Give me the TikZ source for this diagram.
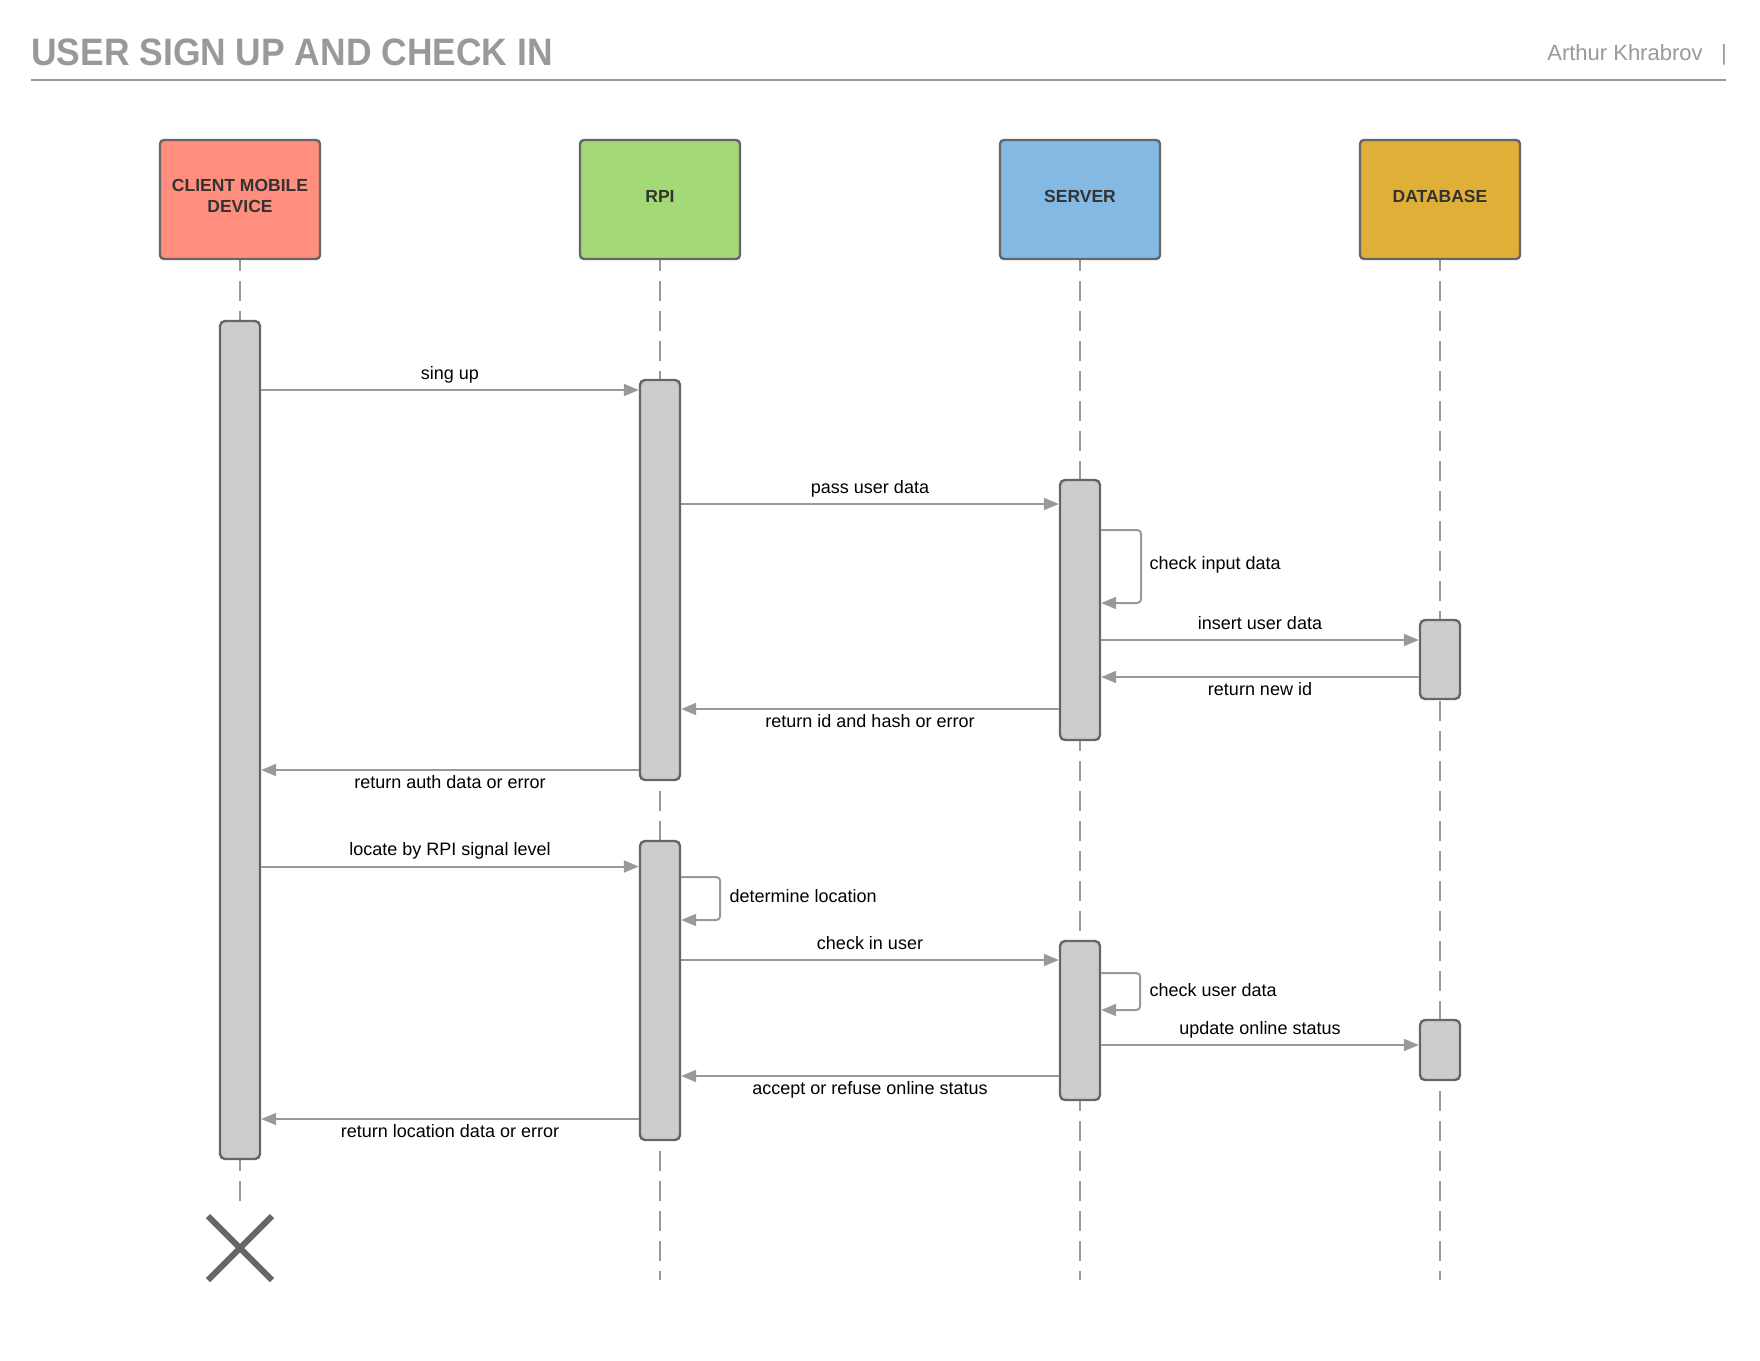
\documentclass[tikz,border=0pt]{standalone}
\usepackage{fontspec}
\setmainfont{Liberation Sans}
\usetikzlibrary{arrows.meta,calc}
\definecolor{clientc}{HTML}{FF8E7E}
\definecolor{rpic}{HTML}{A3D977}
\definecolor{serverc}{HTML}{83B9E3}
\definecolor{dbc}{HTML}{E0AF37}
\definecolor{bargray}{HTML}{CCCCCC}
\definecolor{bordergray}{HTML}{666666}
\definecolor{linegray}{HTML}{999999}
\definecolor{headtext}{HTML}{333333}
\definecolor{titlegray}{HTML}{999999}
\begin{document}
\begin{tikzpicture}[x=0.5pt,y=-0.5pt,
  head/.style={draw=bordergray, line width=1.2pt, rounded corners=2pt,
    minimum width=80pt, minimum height=59.5pt, inner sep=0pt},
  headlbl/.style={inner sep=0pt, align=center, text=headtext,
    font=\fontsize{8.75}{10.5}\selectfont\bfseries},
  actbar/.style={draw=bordergray, fill=bargray, line width=1.2pt,
    rounded corners=2.5pt, minimum width=20pt, inner sep=0pt},
  life/.style={draw=linegray, line width=1pt, dash pattern=on 10pt off 5pt, dash phase=4.5pt},
  msg/.style={draw=linegray, line width=1pt,
    -{Triangle[length=7.5pt,width=6pt,fill=linegray]}},
  lbl/.style={font=\fontsize{9}{11}\selectfont, text=black, anchor=base, inner sep=0pt},
  lblA/.style={lbl, yshift=5.5pt},
  lblB/.style={lbl, yshift=-9pt},
  lblL/.style={font=\fontsize{9}{11}\selectfont, text=black, anchor=base west, inner sep=0pt}
]
\useasboundingbox (0,0) rectangle (1760,1360);
\fill[white] (0,0) rectangle (1760,1360);

% title
\node[anchor=base west, inner sep=0pt, text=titlegray,
  font=\fontsize{17.7}{20}\selectfont\bfseries] (title) at (31,65) {\scalebox{1}[1.08]{USER SIGN UP AND CHECK IN}};
\node[anchor=base east, inner sep=0pt, text=titlegray,
  font=\fontsize{11}{13}\selectfont] (author) at (1703,60) {Arthur Khrabrov};
\node[anchor=base, inner sep=0pt, text=titlegray,
  font=\fontsize{11}{13}\selectfont] (sep) at (1724,60) {|};
\draw[titlegray, line width=1pt] (31,80) -- (1726,80);

% heads
\node[head, fill=clientc] (client) at (240,199.5) {};
\node[head, fill=rpic] (rpi) at (660,199.5) {};
\node[head, fill=serverc] (server) at (1080,199.5) {};
\node[head, fill=dbc] (db) at (1440,199.5) {};
\node[headlbl] (clientT) at ([yshift=1.7pt]client.center) {CLIENT MOBILE\\DEVICE};
\node[headlbl] (rpiT) at ([yshift=1.3pt]rpi.center) {RPI};
\node[headlbl] (serverT) at ([yshift=1.3pt]server.center) {SERVER};
\node[headlbl] (dbT) at ([yshift=1.3pt]db.center) {DATABASE};

% lifeline ends
\coordinate (clientEnd) at (240,1207);
\coordinate (rpiEnd) at (660,1280);
\coordinate (serverEnd) at (1080,1280);
\coordinate (dbEnd) at (1440,1280);
\draw[life] (client.south) -- (clientEnd);
\draw[life] (rpi.south) -- (rpiEnd);
\draw[life] (server.south) -- (serverEnd);
\draw[life] (db.south) -- (dbEnd);

% activation bars
\node[actbar, minimum height=419pt] (c1) at (240,740) {};
\node[actbar, minimum height=200pt] (r1) at (660,580) {};
\node[actbar, minimum height=149.5pt] (r2) at (660,990.5) {};
\node[actbar, minimum height=130pt] (s1) at (1080,610) {};
\node[actbar, minimum height=79.5pt] (s2) at (1080,1020.5) {};
\node[actbar, minimum height=39.5pt] (d1) at (1440,659.5) {};
\node[actbar, minimum height=30pt] (d2) at (1440,1050) {};

% destruction mark
\coordinate (kill) at (240,1248);
\draw[bordergray, line width=3pt] ($(kill)+(-32,-32)$) -- ($(kill)+(32,32)$);
\draw[bordergray, line width=3pt] ($(kill)+(-32,32)$) -- ($(kill)+(32,-32)$);

% message levels
\coordinate (y1) at (0,390);
\coordinate (y2) at (0,504);
\coordinate (y3a) at (0,530);
\coordinate (y3b) at (0,603);
\coordinate (y4) at (0,640);
\coordinate (y5) at (0,677);
\coordinate (y6) at (0,709);
\coordinate (y7) at (0,770);
\coordinate (y8) at (0,866.5);
\coordinate (y9a) at (0,877);
\coordinate (y9b) at (0,920);
\coordinate (y10) at (0,960);
\coordinate (y11a) at (0,973);
\coordinate (y11b) at (0,1010);
\coordinate (y12) at (0,1045);
\coordinate (y13) at (0,1076);
\coordinate (y14) at (0,1119);

% messages
\draw[msg] (c1.east |- y1) -- node[lblA] {sing up} (r1.west |- y1);
\draw[msg] (r1.east |- y2) -- node[lblA] {pass user data} (s1.west |- y2);
\draw[msg, rounded corners=2pt] (s1.east |- y3a) -- ++(40,0) coordinate (l3) -- ++(0,73) -- (s1.east |- y3b);
\node[lblL] (l3t) at ($(l3)+(8,39)$) {check input data};
\draw[msg] (s1.east |- y4) -- node[lblA] {insert user data} (d1.west |- y4);
\draw[msg] (d1.west |- y5) -- node[lblB] {return new id} (s1.east |- y5);
\draw[msg] (s1.west |- y6) -- node[lblB] {return id and hash or error} (r1.east |- y6);
\draw[msg] (r1.west |- y7) -- node[lblB] {return auth data or error} (c1.east |- y7);
\draw[msg] (c1.east |- y8) -- node[lblA] {locate by RPI signal level} (r2.west |- y8);
\draw[msg, rounded corners=2pt] (r2.east |- y9a) -- ++(39,0) coordinate (l9) -- ++(0,43) -- (r2.east |- y9b);
\node[lblL] (l9t) at ($(l9)+(9,25)$) {determine location};
\draw[msg] (r2.east |- y10) -- node[lblA] {check in user} (s2.west |- y10);
\draw[msg, rounded corners=2pt] (s2.east |- y11a) -- ++(39,0) coordinate (l11) -- ++(0,37) -- (s2.east |- y11b);
\node[lblL] (l11t) at ($(l11)+(9,23)$) {check user data};
\draw[msg] (s2.east |- y12) -- node[lblA] {update online status} (d2.west |- y12);
\draw[msg] (s2.west |- y13) -- node[lblB] {accept or refuse online status} (r2.east |- y13);
\draw[msg] (r2.west |- y14) -- node[lblB] {return location data or error} (c1.east |- y14);
\end{tikzpicture}
\end{document}
